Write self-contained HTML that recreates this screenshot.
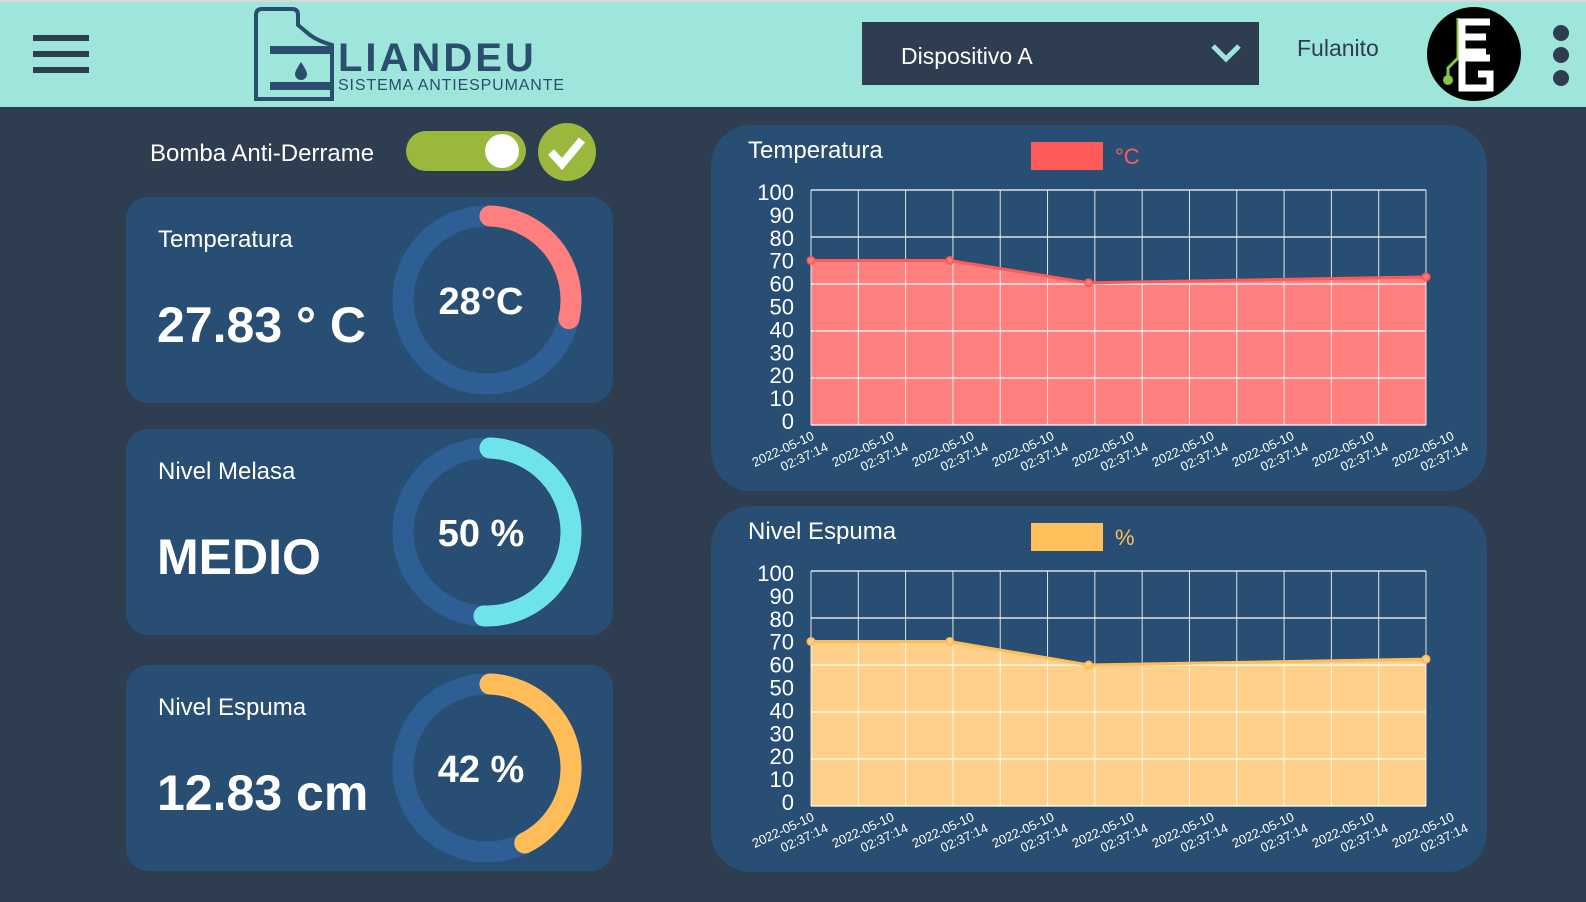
<!DOCTYPE html>
<html><head><meta charset="utf-8"><style>
body{margin:0;width:1586px;height:902px;overflow:hidden;background:#2e3d4f;font-family:"Liberation Sans",sans-serif}
svg{display:block}
</style></head><body>
<svg width="1586" height="902" xmlns="http://www.w3.org/2000/svg" id="root">
<rect width="1586" height="902" fill="#2e3d4f"/>
<g>
<rect width="1586" height="107" fill="#9ee6dc"/>
<rect y="0" width="1586" height="2" fill="#d8d8d8"/>
<g fill="#2e3d4f">
<rect x="33" y="35" width="56" height="6"/><rect x="33" y="51" width="56" height="6"/><rect x="33" y="67" width="56" height="6"/>
</g>
<g>
<path d="M256 99 V15 q0-6 6-6 h30 q6 0 6 6 v10 l12 10 q8 6 22 10 v54 z" fill="none" stroke="#2b4d6e" stroke-width="4"/>
<rect x="270" y="46" width="62" height="8" fill="#2b4d6e"/>
<rect x="270" y="82" width="62" height="8" fill="#2b4d6e"/>
<path d="M301 62 q-6 9 -6 12 a6 6 0 0 0 12 0 q0-3 -6-12z" fill="#2b4d6e"/>
<text x="338" y="71" font-size="40" font-weight="bold" fill="#2b4d6e" letter-spacing="3">LIANDEU</text>
<text x="338" y="90" font-size="16" fill="#2b4d6e" textLength="226">SISTEMA ANTIESPUMANTE</text>
</g>
<g>
<rect x="862" y="22" width="397" height="63" fill="#2e3d4f"/>
<text x="901" y="64" font-size="23" fill="#fff">Dispositivo A</text>
<path d="M1213 46 l13 13 l13 -13" fill="none" stroke="#9ee6dc" stroke-width="5"/>
</g>
<text x="1297" y="56" font-size="23" fill="#2e3d4f">Fulanito</text>
<g>
<circle cx="1474" cy="54" r="47" fill="#000"/>
<path d="M1458 18 v40 l-10 10 v12" stroke="#8bc34a" stroke-width="3" fill="none"/>
<circle cx="1448" cy="80" r="5" fill="#8bc34a"/>
<path d="M1490 22 h-28 v30 h24 M1462 37 h24 M1490 58 h-28 v30 h28 v-14 h-12" stroke="#fff" stroke-width="7" fill="none"/>
</g>
<g fill="#2e3d4f">
<circle cx="1561" cy="33" r="8"/><circle cx="1561" cy="55" r="8"/><circle cx="1561" cy="78" r="8"/>
</g>
</g>

<text x="150" y="161" font-size="24" fill="#fff">Bomba Anti-Derrame</text>
<g>
<rect x="406" y="131" width="120" height="40" rx="20" fill="#9ab83c"/>
<circle cx="502" cy="151" r="17" fill="#fff"/>
</g>
<g>
<circle cx="567" cy="152" r="29" fill="#9ab83c"/>
<path d="M551 152 l11 12 l20 -24" stroke="#fff" stroke-width="8" fill="none"/>
</g>

<g id="cards"></g>
<g id="charts"></g>
</svg>
<script>
const NS='http://www.w3.org/2000/svg';
function mk(tag,attrs,parent,text){const e=document.createElementNS(NS,tag);for(const k in attrs)e.setAttribute(k,attrs[k]);if(text!==undefined)e.textContent=text;parent.appendChild(e);return e;}

// gauge card data
const cardTitles=['Temperatura','Nivel Melasa','Nivel Espuma'];
const cardValues=['27.83 ° C','MEDIO','12.83 cm'];
const gaugePercents=[28,50,42];
const gaugeLabels=['28°C','50 %','42 %'];
const gaugeColors=['#ff7f7f','#6ee4ea','#ffbd59'];
const cardTops=[197,429,665];

const cards=document.getElementById('cards');
cardTitles.forEach((t,i)=>{
  const top=cardTops[i];
  const g=mk('g',{},cards);
  
  
  mk('rect',{x:126,y:top,width:487,height:206,rx:22,fill:'#284e73'},g);
  const tt=mk('text',{x:158,y:top+50,'font-size':24,fill:'#fff'},g,t);
  
  
  const vt=mk('text',{x:157,y:top+145,'font-size':50,'font-weight':'bold',fill:'#fff'},g,cardValues[i]);
  
  
  const cx=487,cy=top+103,r=84;
  const gg=mk('g',{},g);
  
  
  mk('circle',{cx,cy,r,fill:'none',stroke:'#2d5f94','stroke-width':21},gg);
  const C=2*Math.PI*r, L=C*gaugePercents[i]/100;
  const arc=mk('circle',{cx,cy,r,fill:'none',stroke:gaugeColors[i],'stroke-width':21,'stroke-linecap':'round','stroke-dasharray':L+' '+C,transform:`rotate(-88 ${cx} ${cy})`},gg);
  
  
  const gl=mk('text',{x:cx-6,y:cy+14,'font-size':38,'font-weight':'bold',fill:'#fff','text-anchor':'middle'},gg,gaugeLabels[i]);
  
  
});

// chart data
const xTimes=[0,1,2,4.43];
const tempValues=[70,70,60.5,63];
const foamValues=[70,70,60,62.5];
const yTicks=[0,10,20,30,40,50,60,70,80,90,100];
const xTickLabels=['2022-05-10','2022-05-10','2022-05-10','2022-05-10','2022-05-10','2022-05-10','2022-05-10','2022-05-10','2022-05-10'];
const xTickTimes=['02:37:14','02:37:14','02:37:14','02:37:14','02:37:14','02:37:14','02:37:14','02:37:14','02:37:14'];

const chartsG=document.getElementById('charts');
function chart(top,title,values,legendText,lineColor,fillColor,legendColor,name){
  const g=mk('g',{},chartsG);
  
  
  mk('rect',{x:711,y:top,width:776,height:366,rx:40,fill:'#284e73'},g);
  const t=mk('text',{x:748,y:top+33,'font-size':24,fill:'#fff'},g,title);
  
  
  const lg=mk('g',{},g);
  
  
  mk('rect',{x:1031,y:top+17,width:72,height:28,fill:legendColor},lg);
  mk('text',{x:1115,y:top+39,'font-size':22,fill:legendColor},lg,legendText);
  const x0=811,x1=1426,y0=top+300,y1=top+65;
  const X=v=>x0+(v-xTimes[0])/(xTimes[xTimes.length-1]-xTimes[0])*(x1-x0);
  const Y=v=>y0-(v/100)*(y0-y1);
  // area
  let d=`M${X(xTimes[0])},${y0}`;
  xTimes.forEach((tv,i)=>d+=` L${X(tv)},${Y(values[i])}`);
  d+=` L${X(xTimes[xTimes.length-1])},${y0} Z`;
  const area=mk('path',{d,fill:fillColor},g);
  
  
  // grid
  for(let i=0;i<=13;i++){const gx=x0+i*(x1-x0)/13;mk('line',{x1:gx,x2:gx,y1:y1,y2:y0,stroke:'#fff','stroke-width':1,opacity:0.85},g);}
  for(let v=0;v<=100;v+=20){mk('line',{x1:x0,x2:x1,y1:Y(v),y2:Y(v),stroke:'#fff','stroke-width':1.2},g);}
  // line
  const pts=xTimes.map((tv,i)=>X(tv)+','+Y(values[i])).join(' ');
  const ln=mk('polyline',{points:pts,fill:'none',stroke:lineColor,'stroke-width':3},g);
  
  
  xTimes.forEach((tv,i)=>{
    const p=mk('circle',{cx:X(tv),cy:Y(values[i]),r:3.5,fill:fillColor,stroke:lineColor,'stroke-width':2},g);
    
    
  });
  // y ticks
  yTicks.forEach(v=>{
    const yy=y0-(v/100)*(y0-y1-6)-4;
    const tx=mk('text',{x:794,y:yy+8,'font-size':22,fill:'#fff','text-anchor':'end'},g,String(v));
    
    
  });
  // x ticks
  const n=xTickLabels.length;
  xTickLabels.forEach((lab,i)=>{
    const ex=815+i*(1455-815)/(n-1);
    const ey=y0+14;
    const tg=mk('g',{transform:`translate(${ex},${ey}) rotate(-25)`},g);
    
    
    mk('text',{x:0,y:0,'font-size':13,fill:'#fff','text-anchor':'end'},tg,lab);
    mk('text',{x:8,y:16,'font-size':13,fill:'#fff','text-anchor':'end'},tg,xTickTimes[i]);
  });
}
chart(125,'Temperatura',tempValues,'°C','#ff5a5a','#ff7f7f','#ff5a5a','temperature-chart');
chart(506,'Nivel Espuma',foamValues,'%','#ffbd59','#ffd08a','#ffbf5a','foam-chart');
</script>
</body></html>
